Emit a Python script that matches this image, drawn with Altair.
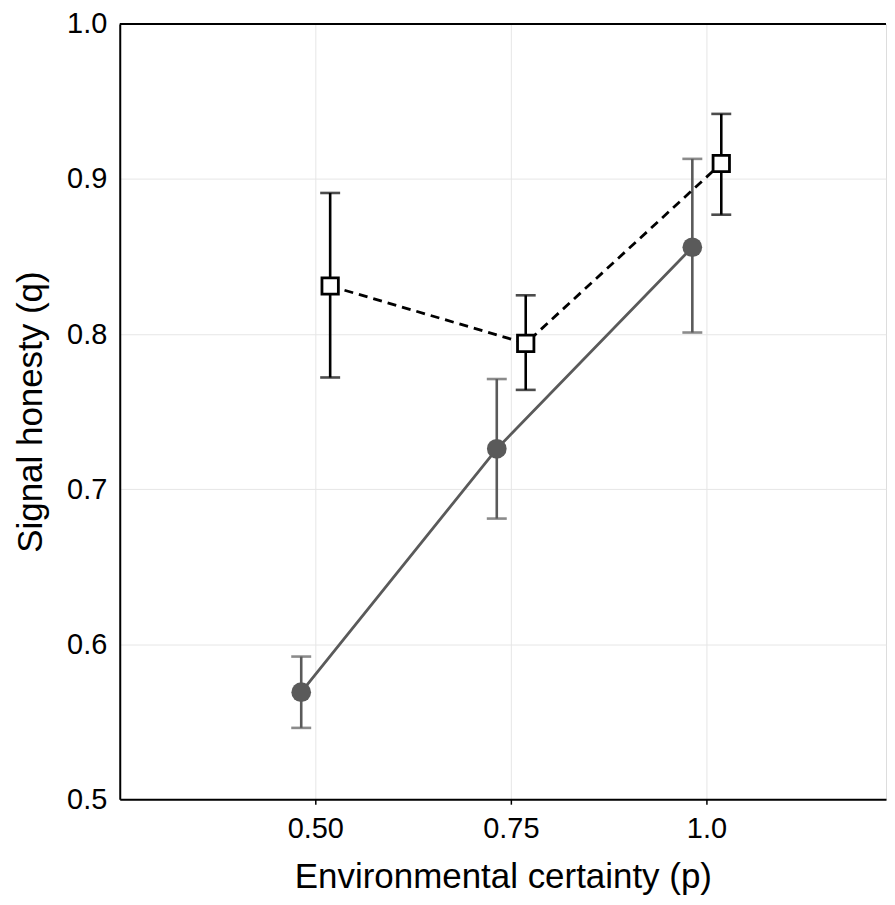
import altair as alt
import pandas as pd

# ---- data ----
p_levels = [0.5, 0.75, 1.0]

filled_mean = [0.569, 0.726, 0.856]
filled_lo = [0.546, 0.681, 0.801]
filled_hi = [0.592, 0.771, 0.913]

open_mean = [0.831, 0.794, 0.910]
open_lo = [0.772, 0.764, 0.877]
open_hi = [0.891, 0.825, 0.942]

x_ticks = [0.5, 0.75, 1.0]
y_ticks = [0.5, 0.6, 0.7, 0.8, 0.9, 1.0]

# horizontal dodge of the two series (style constant)
DODGE_FILLED = -0.018
DODGE_OPEN = 0.019

filled = pd.DataFrame({"p": p_levels, "q": filled_mean, "lo": filled_lo, "hi": filled_hi})
opened = pd.DataFrame({"p": p_levels, "q": open_mean, "lo": open_lo, "hi": open_hi})

W, H = 768, 777
FONT = "Liberation Sans"

x_scale = alt.Scale(domain=[0.25, 0.25 + W / 784], nice=False, zero=False)
y_scale = alt.Scale(domain=[0.5, 1.0], nice=False, zero=False)

x_axis = alt.Axis(
    values=x_ticks,
    labelExpr="datum.value == 1 ? '1.0' : format(datum.value, '.2f')",
    title="Environmental certainty (p)",
    grid=True, gridColor="#e6e6e6", gridWidth=1,
    domainColor="black", domainWidth=2,
    tickColor="black", tickSize=5, tickWidth=1.5,
    labelFontSize=29, labelFont=FONT, labelColor="black", labelPadding=10,
    titleFontSize=35, titleFont=FONT, titleColor="black", titleFontWeight="normal",
    titlePadding=16,
)
y_axis = alt.Axis(
    values=y_ticks,
    format=".1f",
    title="Signal honesty (q)",
    grid=True, gridColor="#e6e6e6", gridWidth=1,
    domainColor="black", domainWidth=2,
    tickSize=0,
    labelFontSize=29, labelFont=FONT, labelColor="black", labelPadding=13,
    titleFontSize=35, titleFont=FONT, titleColor="black", titleFontWeight="normal",
    titlePadding=18,
)

def X(field):
    return alt.X(f"{field}:Q", scale=x_scale, axis=x_axis)

def Y(field):
    return alt.Y(f"{field}:Q", scale=y_scale, axis=y_axis)

GRAY = "#5a5a5a"

def series(df, dodge, color, line_dash, point_mark):
    base = alt.Chart(df).transform_calculate(xp=f"datum.p + ({dodge})")
    bars = base.mark_rule(color=color, strokeWidth=2.6).encode(
        x=X("xp"), y=Y("lo"), y2="hi")
    cap_lo = base.mark_tick(color=color, orient="horizontal", size=20, thickness=2.6).encode(
        x=X("xp"), y=Y("lo"))
    cap_hi = base.mark_tick(color=color, orient="horizontal", size=20, thickness=2.6).encode(
        x=X("xp"), y=Y("hi"))
    line_kw = dict(color=color, strokeWidth=2.8)
    if line_dash:
        line_kw["strokeDash"] = line_dash
    line = base.mark_line(**line_kw).encode(x=X("xp"), y=Y("q"))
    pts = base.mark_point(**point_mark).encode(x=X("xp"), y=Y("q"))
    return [bars, cap_lo, cap_hi, line, pts]

layers = []
layers += series(filled, DODGE_FILLED, GRAY, None,
                 dict(shape="circle", filled=True, color=GRAY, size=390, opacity=1))
layers += series(opened, DODGE_OPEN, "black", [9, 6],
                 dict(shape="square", filled=True, fill="white", stroke="black",
                      strokeWidth=2.8, size=270, opacity=1))

top_rule = alt.Chart(pd.DataFrame({"q": [1.0]})).mark_rule(color="black", strokeWidth=2).encode(
    y=Y("q"))

chart = alt.layer(*layers, top_rule).properties(
    width=W, height=H,
    padding={"left": 5, "top": 1, "right": 0, "bottom": 0},
).configure_view(stroke=None).configure(background="white")

chart.save("out.html", embed_options={"renderer": "svg", "actions": False})
